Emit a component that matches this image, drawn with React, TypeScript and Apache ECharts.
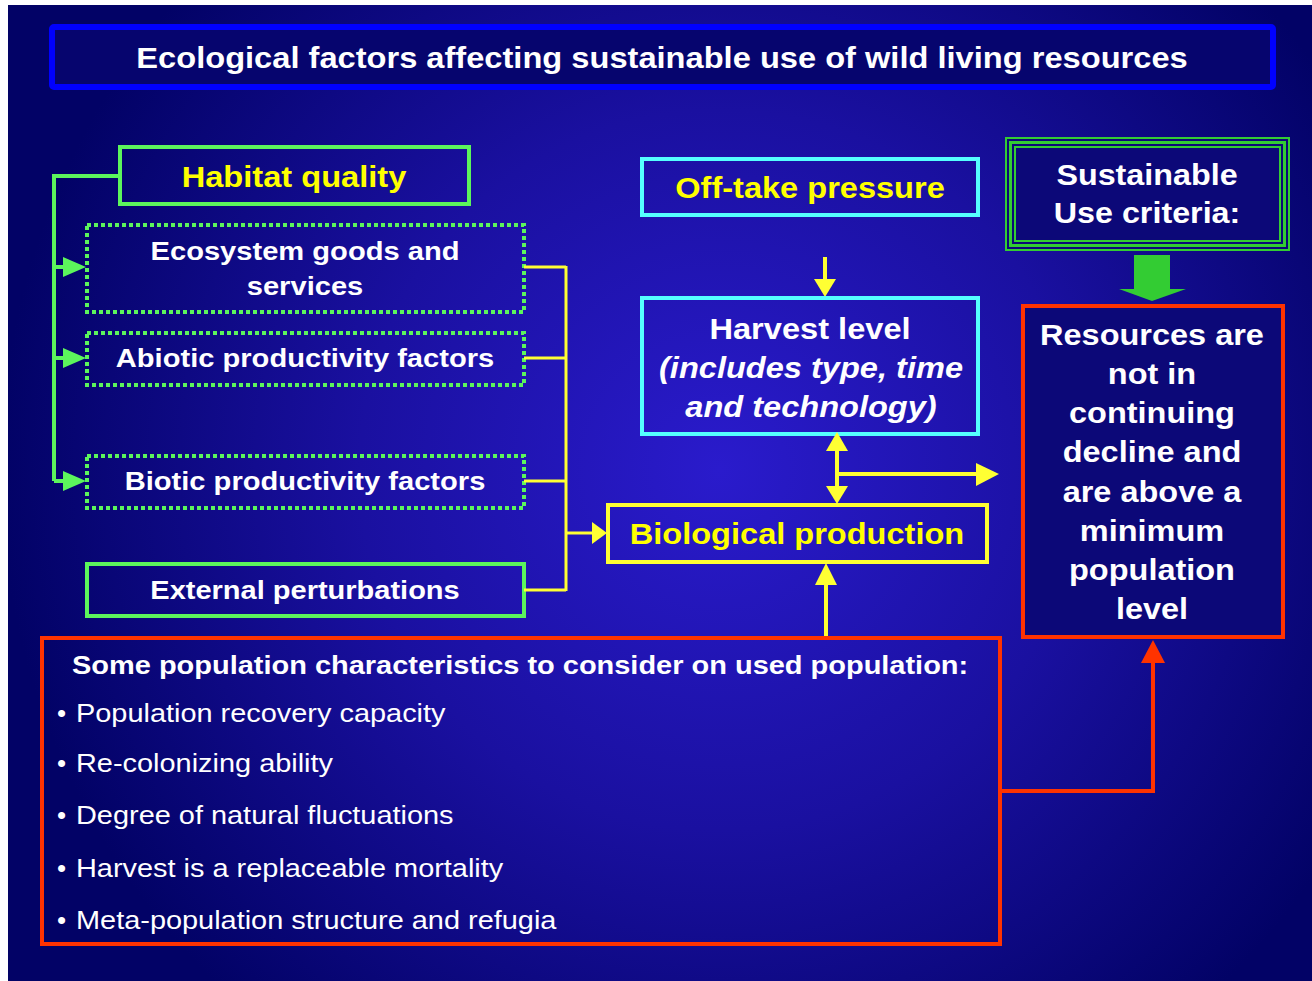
import React, { useEffect, useRef } from "react";
import * as echarts from "echarts";

const titleText = "Ecological factors affecting sustainable use of wild living resources";
const habitatLabel = "Habitat quality";
const habitatItems = ["Ecosystem goods and\nservices", "Abiotic productivity factors", "Biotic productivity factors"];
const externalLabel = "External perturbations";
const offtakeLabel = "Off-take pressure";
const harvestTitle = "Harvest level";
const harvestDetail = "(includes type, time\nand technology)";
const bioLabel = "Biological production";
const criteriaLabel = "Sustainable\nUse criteria:";
const resourcesLabel = "Resources are\nnot in\ncontinuing\ndecline and\nare above a\nminimum\npopulation\nlevel";
const popHeading = "Some population characteristics to consider on used population:";
const popBullets = [
  "Population recovery capacity",
  "Re-colonizing ability",
  "Degree of natural fluctuations",
  "Harvest is a replaceable mortality",
  "Meta-population structure and refugia",
];

const FONT = '"Liberation Sans", Arial, Helvetica, sans-serif';
const GREEN = "#5cf55c";
const YELLOW = "#ffff33";
const CYAN = "#55ffff";
const RED = "#ff3300";

function box(x: number, y: number, w: number, h: number, color: string, lw = 4, dash?: number[], fill = "transparent") {
  return {
    type: "rect",
    shape: { x, y, width: w, height: h },
    style: { fill, stroke: color, lineWidth: lw, lineDash: dash },
  };
}
function line(x1: number, y1: number, x2: number, y2: number, color: string, lw = 3) {
  return { type: "line", shape: { x1, y1, x2, y2 }, style: { stroke: color, lineWidth: lw } };
}
function poly(points: number[][], color: string) {
  return { type: "polygon", shape: { points }, style: { fill: color } };
}
function txt(
  text: string,
  x: number,
  y: number,
  size: number,
  color: string,
  sx = 1.087,
  weight = "bold",
  align = "center",
  lh?: number,
  italic = false
) {
  return {
    type: "text",
    x,
    y,
    scaleX: sx,
    style: {
      text,
      fill: color,
      font: `${italic ? "italic " : ""}${weight} ${size}px ${FONT}`,
      align,
      verticalAlign: "middle",
      lineHeight: lh,
    },
  };
}

export default function App() {
  const ref = useRef<HTMLDivElement>(null);
  useEffect(() => {
    if (!ref.current) return;
    const chart = echarts.init(ref.current, null, { renderer: "svg" });
    const els: any[] = [];
    // background
    els.push({
      type: "rect",
      shape: { x: 8, y: 5, width: 1304, height: 976 },
      style: {
        fill: {
          type: "radial",
          x: 720,
          y: 470,
          r: 720,
          global: true,
          colorStops: [
            { offset: 0, color: "#2a1bcc" },
            { offset: 0.5, color: "#1a10a0" },
            { offset: 1, color: "#020266" },
          ],
        },
      },
    });
    // title
    els.push({
      type: "rect",
      shape: { x: 52, y: 27, width: 1221, height: 60, r: 2 },
      style: { fill: "#06056e", stroke: "#0000ff", lineWidth: 6 },
    });
    els.push(txt(titleText, 662, 58, 30, "#ffffff", 1.088));

    // habitat quality
    els.push(box(120, 147, 349, 57, GREEN, 4));
    els.push(txt(habitatLabel, 294, 177, 30, "#ffff00", 1.087));
    // green connector
    els.push({ type: "polyline", shape: { points: [[120, 176], [54, 176], [54, 481]] }, style: { stroke: GREEN, lineWidth: 4, fill: null } });
    const itemYs = [267, 358, 481];
    itemYs.forEach((y) => {
      els.push(line(54, y, 66, y, GREEN, 4));
      els.push(poly([[63, y - 10], [86, y], [63, y + 10]], GREEN));
    });
    // dotted boxes
    const dotted = [
      [87, 225, 437, 87],
      [87, 333, 437, 52],
      [87, 456, 437, 52],
    ];
    dotted.forEach(([x, y, w, h], i) => {
      els.push(box(x, y, w, h, GREEN, 4, [4, 3]));
      els.push(txt(habitatItems[i], 305, itemYs[i] + (i === 0 ? 2 : 0), 26, "#ffffff", 1.12, "bold", "center", 35));
    });
    // external
    els.push(box(87, 564, 437, 52, GREEN, 4));
    els.push(txt(externalLabel, 305, 590, 26, "#ffffff", 1.116));

    // yellow connectors
    [267, 358, 481, 590].forEach((y) => els.push(line(524, y, 566, y, YELLOW, 3)));
    els.push(line(566, 266, 566, 591, YELLOW, 3));
    els.push(line(566, 533, 594, 533, YELLOW, 3));
    els.push(poly([[592, 522], [607, 533], [592, 544]], YELLOW));

    // biological production
    els.push(box(608, 505, 379, 57, YELLOW, 4));
    els.push(txt(bioLabel, 797, 534, 30, "#ffff00", 1.085));

    // off-take
    els.push(box(642, 159, 336, 56, CYAN, 4));
    els.push(txt(offtakeLabel, 810, 188, 30, "#ffff00", 1.085));
    els.push(line(825, 257, 825, 282, YELLOW, 4));
    els.push(poly([[814, 279], [825, 297], [836, 279]], YELLOW));

    // harvest
    els.push(box(642, 298, 336, 136, CYAN, 4));
    els.push(txt(harvestTitle, 810, 329, 30, "#ffffff", 1.087));
    els.push(txt(harvestDetail, 811, 387, 30, "#ffffff", 1.086, "bold", "center", 39, true));

    // double arrow + right arrow
    els.push(line(837, 448, 837, 488, YELLOW, 4));
    els.push(poly([[826, 451], [837, 432], [848, 451]], YELLOW));
    els.push(poly([[826, 486], [837, 504], [848, 486]], YELLOW));
    els.push(line(837, 474, 978, 474, YELLOW, 4));
    els.push(poly([[976, 463], [999, 474], [976, 486]], YELLOW));

    // bio <- bottom box arrow
    els.push(line(826, 584, 826, 636, YELLOW, 4));
    els.push(poly([[815, 585], [826, 563], [837, 585]], YELLOW));

    // sustainable criteria (triple border)
    els.push({ type: "rect", shape: { x: 1006, y: 138, width: 283, height: 112 }, style: { fill: "#0c0878", stroke: "#33cc33", lineWidth: 2 } });
    els.push(box(1010.5, 142.5, 274, 103, "#33cc33", 3));
    els.push(box(1015, 147, 265, 94, "#33cc33", 2));
    els.push(txt(criteriaLabel, 1147, 194, 30, "#ffffff", 1.077, "bold", "center", 38));
    // green block arrow
    els.push(poly([[1134, 255], [1170, 255], [1170, 289], [1186, 289], [1152, 301], [1119, 289], [1134, 289]], "#33cc33"));

    // resources box
    els.push(box(1023, 306, 260, 331, RED, 4, undefined, "#0c0878"));
    els.push(txt(resourcesLabel, 1152, 472, 30, "#ffffff", 1.083, "bold", "center", 39.2));

    // bottom box
    els.push(box(42, 638, 958, 306, RED, 4));
    els.push(txt(popHeading, 72, 665, 26, "#ffffff", 1.114, "bold", "left"));
    const bulletYs = [713, 763, 815, 868, 920];
    popBullets.forEach((b, i) => {
      els.push(txt("\u2022", 57, bulletYs[i], 26, "#ffffff", 1, "normal", "left"));
      els.push(txt(b, 76, bulletYs[i], 26, "#ffffff", 1.112, "normal", "left"));
    });
    // red connector
    els.push({ type: "polyline", shape: { points: [[1000, 791], [1153, 791], [1153, 660]] }, style: { stroke: RED, lineWidth: 4, fill: null } });
    els.push(poly([[1141, 663], [1153, 640], [1165, 663]], RED));

    chart.setOption({ animation: false, graphic: { elements: els } });
    return () => chart.dispose();
  }, []);
  return (
    <div
      ref={ref}
      style={{ position: "absolute", left: 0, top: 0, width: 1312, height: 981, background: "#ffffff" }}
    />
  );
}
